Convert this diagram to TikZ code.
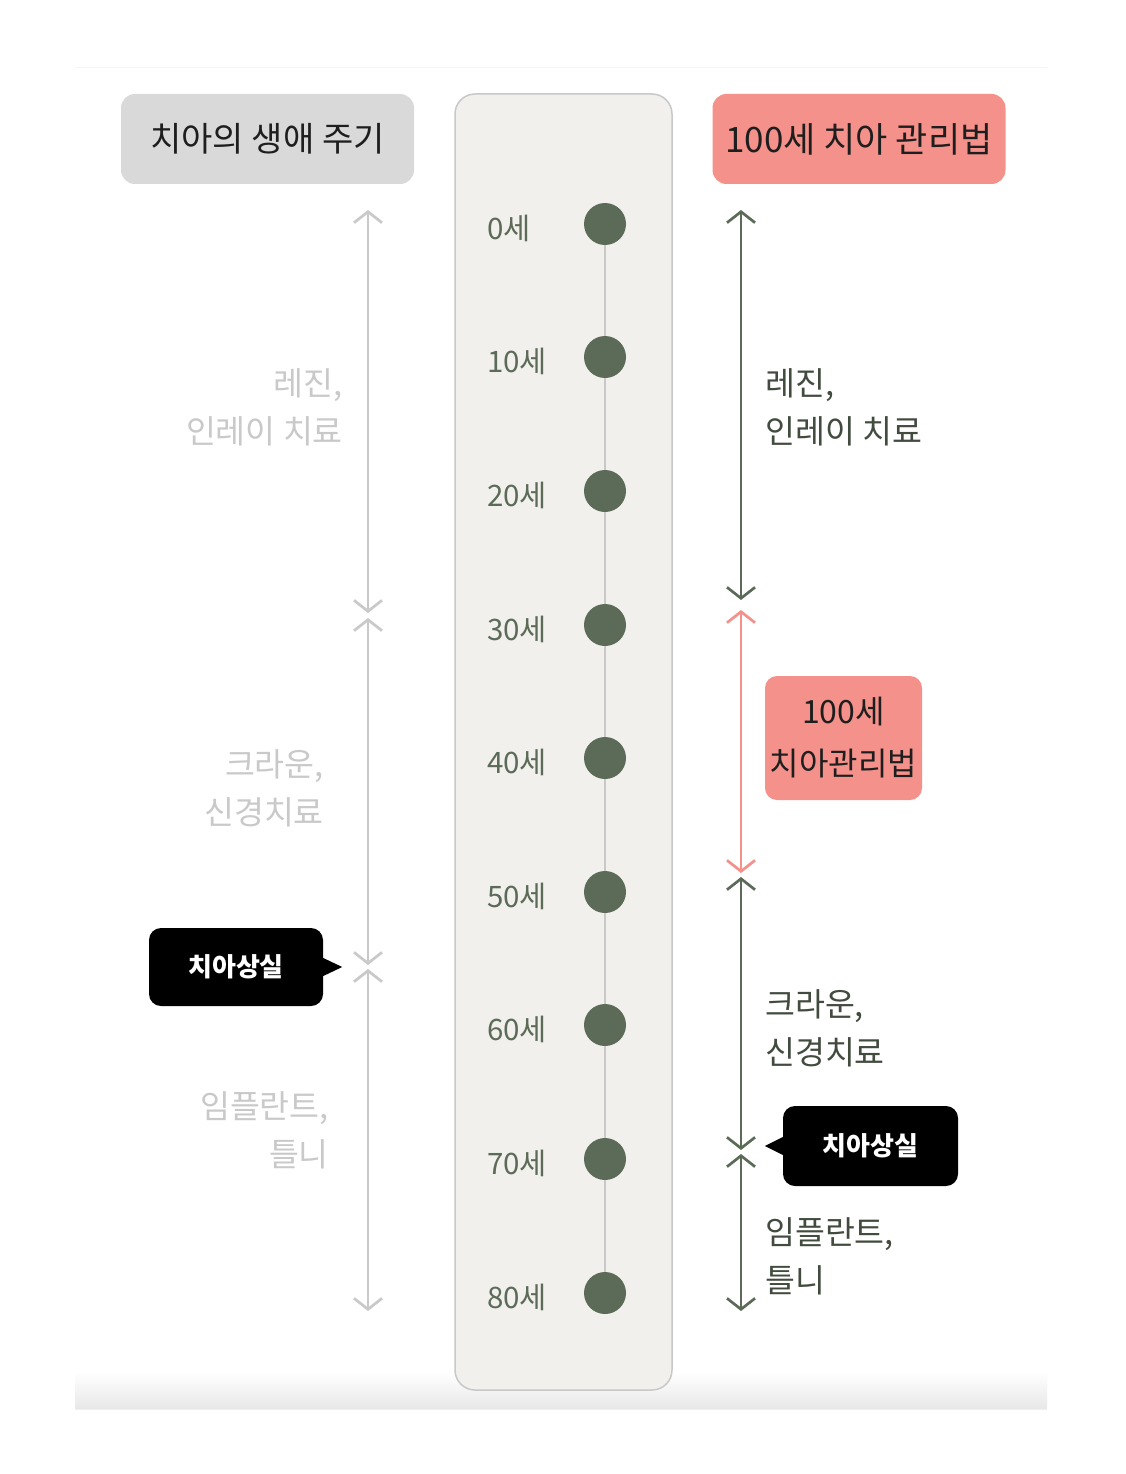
\documentclass[tikz,border=0pt]{standalone}
\usepackage{fontspec}
\setmainfont{Noto Sans CJK KR}
\usetikzlibrary{arrows.meta,calc}
\definecolor{grn}{HTML}{5C6B58}
\definecolor{pnk}{HTML}{F4918A}
\definecolor{lgry}{HTML}{C9C9C9}
\definecolor{colbg}{HTML}{F1F0EC}
\definecolor{colbd}{HTML}{C8C8C8}
\definecolor{hdrgry}{HTML}{D9D9D9}
\definecolor{ink}{HTML}{1E1E1E}
\tikzset{
  hdr/.style={rounded corners=14pt, minimum width=293pt, minimum height=90pt, inner sep=0pt, text=ink},
  dotnode/.style={circle, fill=grn, minimum size=42pt, inner sep=0pt},
  agelbl/.style={anchor=west, text=grn, font=\fontsize{29.5}{33}\selectfont, inner sep=0pt},
  sidetxt/.style={font=\fontsize{32.5}{48}\selectfont, inner sep=0pt},
  barb/.tip={Straight Barb[length=11pt,width=28pt]},
  span/.style={line width=2.7pt, barb-barb},
  callout/.style={fill=black, rounded corners=12pt, text=white, font=\bfseries\fontsize{26}{30}\selectfont, inner sep=0pt}
}
\begin{document}
\begin{tikzpicture}[x=1pt,y=-1pt]
\useasboundingbox (0,0) rectangle (1126,1474);
\fill[white] (0,0) rectangle (1126,1474);
% faint frame
\draw[color=black!4, line width=1pt] (75,68) -- (1047,68);
\shade[top color=white, bottom color=black!9] (75,1372) rectangle (1047,1408);
\draw[color=black!6, line width=1pt] (75,1409) -- (1047,1409);
% headers
\node[hdr, fill=hdrgry, font=\fontsize{34}{38}\selectfont] (hl) at (267.5,139) {치아의 생애 주기};
\node[hdr, fill=pnk, font=\fontsize{35}{38}\selectfont] (hr) at (859,139) {100세 치아 관리법};
% center column
\draw[colbd, fill=colbg, line width=1.5pt, rounded corners=20pt] (455,94) rectangle (672,1390);
% dots
\foreach \i/\y in {0/224,1/357,2/491,3/625,4/758,5/892,6/1025,7/1159,8/1293}{
  \node[dotnode] (d\i) at (605,\y) {};
}
\foreach \a/\b in {0/1,1/2,2/3,3/4,4/5,5/6,6/7,7/8}{
  \draw[colbd, line width=1.5pt] (d\a) -- (d\b);
}
\foreach \i/\t in {0/0세,1/10세,2/20세,3/30세,4/40세,5/50세,6/60세,7/70세,8/80세}{
  \node[agelbl] (a\i) at ($(d\i)+(-118,4)$) {\t};
}
% left spans
\coordinate (L0) at (368,210);
\coordinate (L1) at (368,613);
\coordinate (L2) at (368,618);
\coordinate (L3) at (368,965);
\coordinate (L4) at (368,969);
\coordinate (L5) at (368,1311);
\draw[span, lgry] (L0) -- (L1);
\draw[span, lgry] (L2) -- (L3);
\draw[span, lgry] (L4) -- (L5);
\node[sidetxt, text=lgry, align=right, anchor=east] (lt1) at (343,407) {레진,\\인레이 치료};
\node[sidetxt, text=lgry, align=right, anchor=east] (lt2) at (324,788) {크라운,\\신경치료};
\node[sidetxt, text=lgry, align=right, anchor=east] (lt3) at (329,1130) {임플란트,\\틀니};
% left callout
\node[callout, minimum width=174pt, minimum height=78pt] (cl) at (236,967) {치아상실};
\fill[black] ($(cl.east)+(-2,-10)$) -- ($(cl.east)+(19,0)$) -- ($(cl.east)+(-2,10)$) -- cycle;
% right spans
\coordinate (R0) at (741,210);
\coordinate (R1) at (741,600);
\coordinate (R2) at (741,610);
\coordinate (R3) at (741,873);
\coordinate (R4) at (741,877);
\coordinate (R5) at (741,1150);
\coordinate (R6) at (741,1154);
\coordinate (R7) at (741,1311);
\draw[span, grn] (R0) -- (R1);
\draw[span, pnk] (R2) -- (R3);
\draw[span, grn] (R4) -- (R5);
\draw[span, grn] (R6) -- (R7);
\node[sidetxt, text=grn!70!black, align=left, anchor=west] (rt1) at (765,407) {레진,\\인레이 치료};
\node[sidetxt, text=grn!70!black, align=left, anchor=west] (rt2) at (765,1028) {크라운,\\신경치료};
\node[sidetxt, text=grn!70!black, align=left, anchor=west] (rt3) at (765,1256) {임플란트,\\틀니};
% pink box
\node[fill=pnk, rounded corners=12pt, minimum width=157pt, minimum height=124pt, inner sep=0pt, align=center, text=ink, font=\fontsize{32}{52}\selectfont] (pb) at (843.5,738) {100세\\치아관리법};
% right callout
\node[callout, minimum width=175pt, minimum height=80pt] (cr) at (870.5,1146) {치아상실};
\fill[black] ($(cr.west)+(2,-10)$) -- ($(cr.west)+(-18,0)$) -- ($(cr.west)+(2,10)$) -- cycle;
\end{tikzpicture}
\end{document}
